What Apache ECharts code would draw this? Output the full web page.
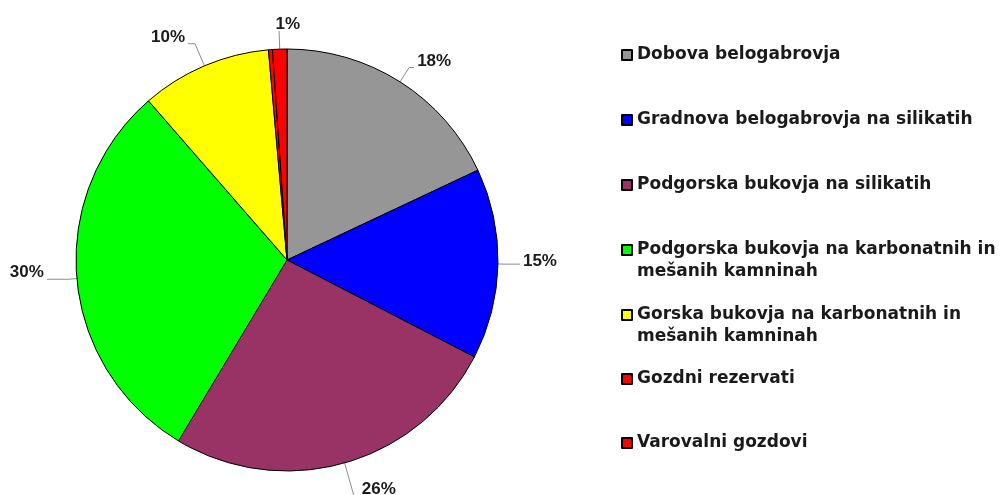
<!DOCTYPE html>
<html>
<head>
<meta charset="utf-8">
<script src="https://cdn.jsdelivr.net/npm/echarts@6/dist/echarts.min.js"></script>
<style>
  html, body { margin: 0; padding: 0; background: #fff; }
  #chart { width: 1004px; height: 495px; }
</style>
</head>
<body>
<div id="chart"></div>
<script>
// kategorije in deleži (%)
var names = [
  'Dobova belogabrovja',
  'Gradnova belogabrovja na silikatih',
  'Podgorska bukovja na silikatih',
  'Podgorska bukovja na karbonatnih in mešanih kamninah',
  'Gorska bukovja na karbonatnih in mešanih kamninah',
  'Gozdni rezervati',
  'Varovalni gozdovi'
];
var shares = [18.0, 14.6, 26.0, 30.0, 10.0, 0.3, 1.1];
var colors = ['#969696', '#0000ff', '#993366', '#00ff00', '#ffff00', '#ff0000', '#ff0000'];

// dolžine povezovalnih črt [length, length2]
var lineLen = [[17, 5], [8, 14], [34, 5], [8, 22], [24, 7], [0, 0], [18, 0]];
// navpična sredina vnosov legende (prva vrstica)
var legendCenters = [55, 120, 185, 250, 315, 379, 443];

var chart = echarts.init(document.getElementById('chart'));

var data = names.map(function (n, i) {
  var item = {
    name: n,
    value: shares[i],
    itemStyle: { color: colors[i] },
    labelLine: { length: lineLen[i][0], length2: lineLen[i][1] }
  };
  if (shares[i] < 0.5) {
    item.label = { show: false };
    item.labelLine.show = false;
  }
  if (i === 1) {
    item.label = { lineHeight: 6 };
  }
  if (i === 6) {
    item.label = { padding: [0, -24, 0, 0] };
  }
  return item;
});

var legends = names.map(function (n, i) {
  var twoLines = n.indexOf(' in ') > 0;
  return {
    data: [n],
    orient: 'vertical',
    left: 621,
    top: legendCenters[i] - (twoLines ? 33 : 11),
    padding: 0,
    itemWidth: 10,
    itemHeight: 10,
    icon: 'rect',
    selectedMode: false,
    itemGap: 0,
    formatter: function (s) {
      // prazna prva vrstica, da ikona stoji ob prvi vrstici besedila
      return s.indexOf(' in ') > 0 ? '\n' + s.replace(' in ', ' in\n') : s;
    },
    textStyle: {
      fontFamily: 'DejaVu Sans',
      fontWeight: 'bold',
      fontSize: 17,
      color: '#1a1a1a',
      lineHeight: 22
    }
  };
});

var option = {
  backgroundColor: '#fff',
  animation: false,
  legend: legends,
  series: [{
    type: 'pie',
    center: [287, 260],
    radius: 211,
    startAngle: 90,
    clockwise: true,
    avoidLabelOverlap: false,
    data: data,
    itemStyle: { borderColor: '#000', borderWidth: 1 },
    label: {
      show: true,
      position: 'outside',
      // prazna druga vrstica dvigne besedilo nad konec črte
      formatter: function (p) { return Math.round(p.percent) + '%\n'; },
      fontFamily: 'Liberation Sans',
      fontWeight: 'bold',
      fontSize: 17,
      lineHeight: 13,
      color: '#1a1a1a',
      distanceToLabelLine: 3
    },
    labelLine: {
      show: true,
      lineStyle: { color: '#8c8c8c', width: 1 }
    },
    emphasis: { disabled: true }
  }]
};

chart.setOption(option);
window.addEventListener('resize', function () { chart.resize(); });
</script>
</body>
</html>
